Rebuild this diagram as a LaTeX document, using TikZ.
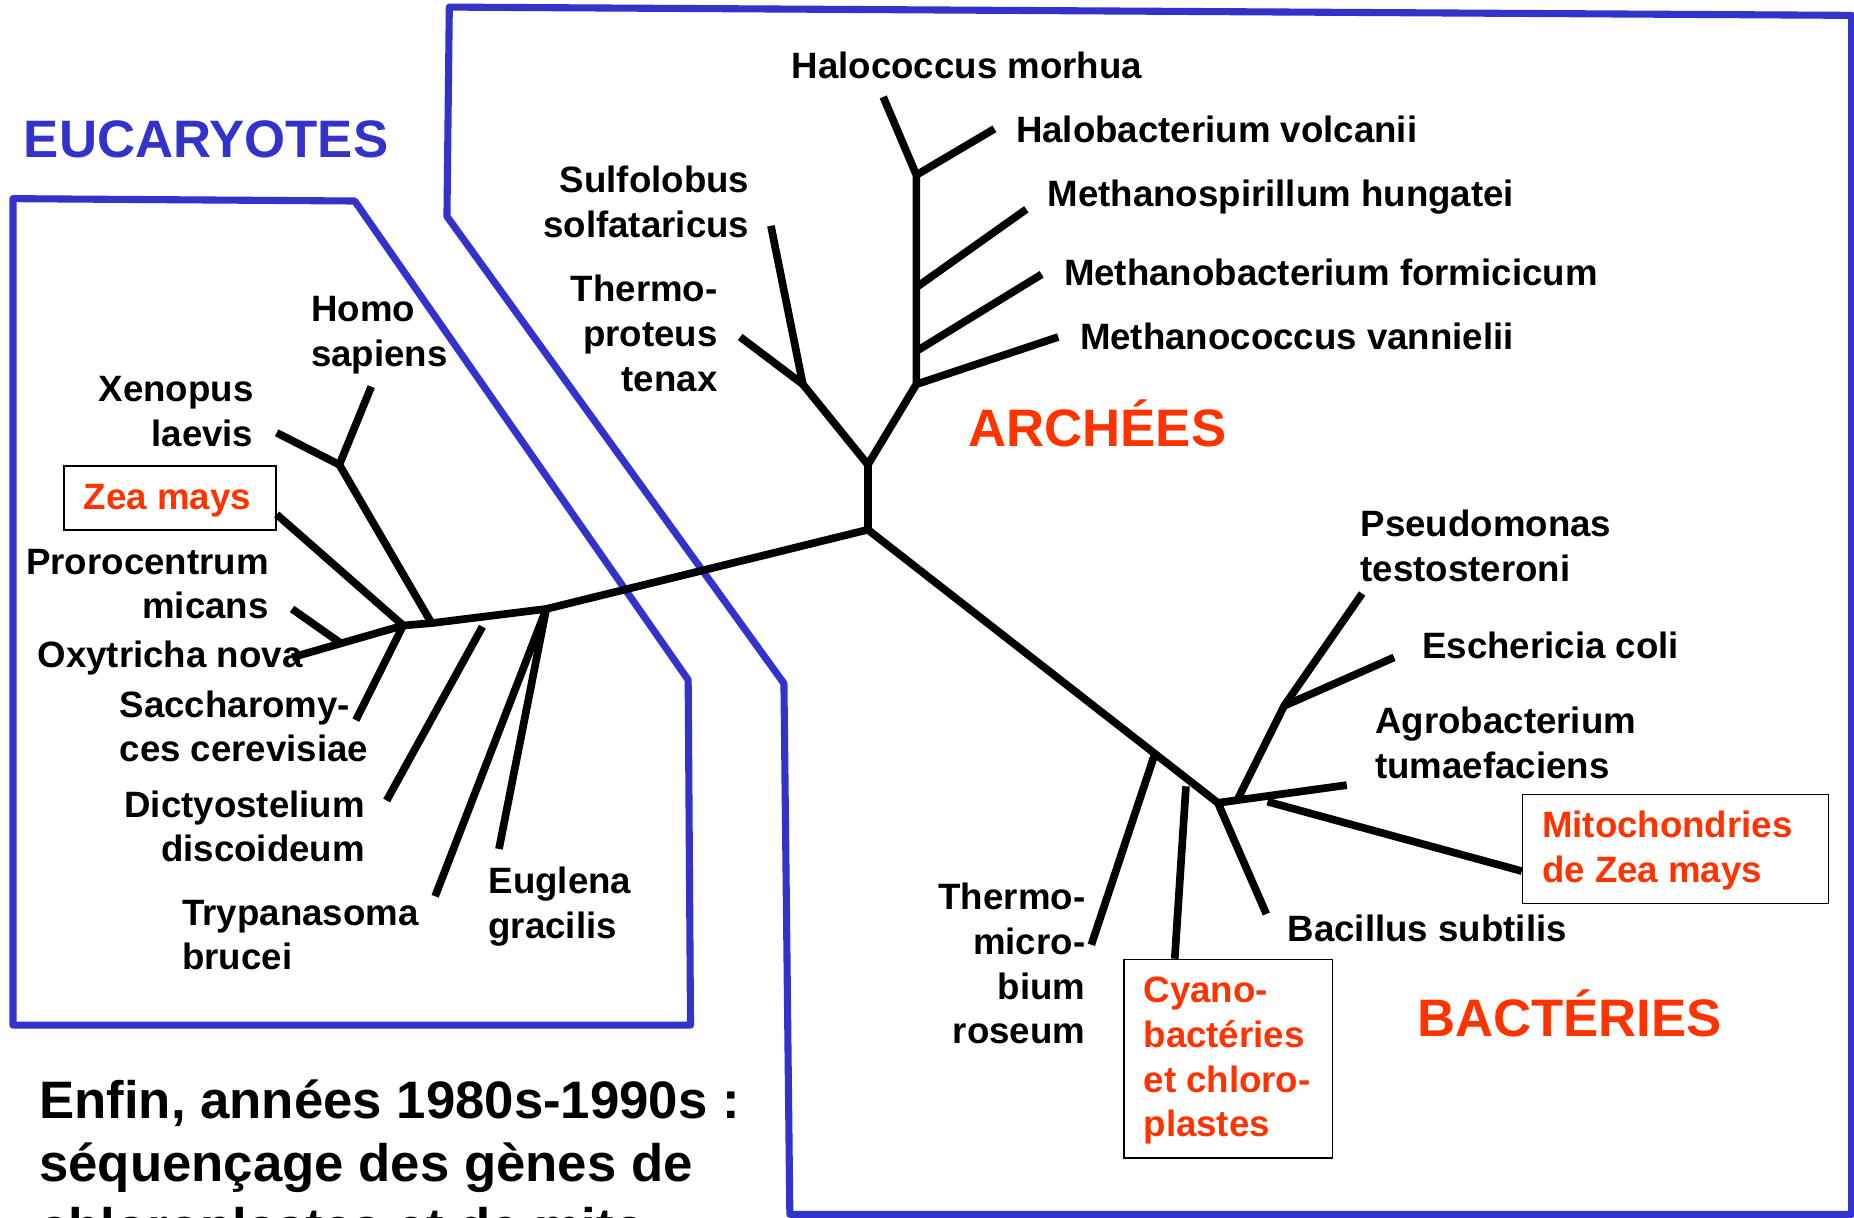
\documentclass[tikz,border=0pt]{standalone}
\usepackage{fontspec}
\setmainfont{Liberation Sans}
\usetikzlibrary{calc}
\definecolor{eublue}{RGB}{51,51,204}
\definecolor{orred}{RGB}{255,51,0}
\newcommand{\rlinesx}[1]{\begin{tabular}[t]{@{}r@{}}#1\end{tabular}}
\newcommand{\llinesx}[1]{\begin{tabular}[t]{@{}l@{}}#1\end{tabular}}
\begin{document}
\begin{tikzpicture}[x=1pt,y=-1pt,
  treeline/.style={line width=6.5pt, line join=round},
  domainline/.style={draw=eublue, line width=6pt, line join=round},
  lab/.style={font=\bfseries\fontsize{31}{37.8}\selectfont, inner sep=0pt, text=black},
  redlab/.style={lab, text=orred},
  bigtext/.style={font=\bfseries\fontsize{44.6}{53.6}\selectfont, inner sep=0pt},
  rbox/.style={draw=black, line width=1.3pt, inner sep=0pt, anchor=north west, rectangle}]
\useasboundingbox (0,0) rectangle (1568,1030);
\clip (0,0) rectangle (1568,1030);
\fill[white] (0,0) rectangle (1568,1030);

% domain outlines
\draw[domainline] (11,168) -- (300,170) -- (582,575) -- (584,867) -- (11,867) -- cycle;
\draw[domainline] (380,6) -- (1566,13) -- (1566,1027) -- (668,1027) -- (663,578) -- (378,183) -- cycle;

% boxes
\node[rbox, minimum width=179.3pt, minimum height=54.4pt] (zeabox) at (53.4,393.3) {};
\node[rbox, minimum width=258.7pt, minimum height=92.3pt] (mitbox) at (1287,671.2) {};
\node[rbox, minimum width=176.4pt, minimum height=168pt] (cyabox) at (950,810.8) {};

% tree coordinates
\coordinate (R) at (734,448);
\coordinate (A0) at (734,393);
\coordinate (A1) at (679,325);
\coordinate (A2) at (775,325);
\coordinate (A3) at (775,148);
\coordinate (M1) at (775,243);
\coordinate (M2) at (775,297);
\coordinate (sulf) at (652,191);
\coordinate (thp) at (626,285);
\coordinate (halc) at (747,82);
\coordinate (halb) at (841,109);
\coordinate (msp) at (868,177);
\coordinate (mbf) at (881,232);
\coordinate (mcv) at (895,285);

\coordinate (E1) at (462,515);
\coordinate (E2) at (365,527);
\coordinate (E3) at (341,529);
\coordinate (oxy) at (247,556);
\coordinate (pro1) at ($(E3)!0.56!(oxy)$);
\coordinate (pro) at (247,515);
\coordinate (HX) at (287,393);
\coordinate (homo) at (314,327);
\coordinate (xen) at (234,366);
\coordinate (sac) at (301,609);
\coordinate (dic1) at (408,530);
\coordinate (dic) at (327,677);
\coordinate (try) at (368,758);
\coordinate (eug) at (422,718);

\coordinate (B1) at (1030,679);
\coordinate (thm1) at ($(R)!0.82!(B1)$);
\coordinate (thm) at (923,799);
\coordinate (cya1) at (1003,665);
\coordinate (bac) at (1071,773);
\coordinate (agr) at (1139,664);
\coordinate (B2s) at ($(B1)!0.15!(agr)$);
\coordinate (B2) at (1086,597);
\coordinate (pse) at (1152,502);
\coordinate (esc) at (1179,556);
\coordinate (mit1) at (1072,678);

% archaea branches
\draw[treeline] (R) -- (A0);
\draw[treeline] (sulf) -- (A1) -- (A0) -- (A2) -- (A3) -- (halc);
\draw[treeline] (A1) -- (thp);
\draw[treeline] (A3) -- (halb);
\draw[treeline] (M1) -- (msp);
\draw[treeline] (M2) -- (mbf);
\draw[treeline] (A2) -- (mcv);

% eukaryote branches
\draw[treeline] (R) -- (E1) -- (E2) -- (E3) -- (oxy);
\draw[treeline] (pro1) -- (pro);
\draw[treeline] (E3) -- ($(zeabox.north east)!0.75!(zeabox.south east)$);
\draw[treeline] (E2) -- (HX) -- (homo);
\draw[treeline] (HX) -- (xen);
\draw[treeline] (E3) -- (sac);
\draw[treeline] (dic1) -- (dic);
\draw[treeline] (E1) -- (try);
\draw[treeline] (E1) -- (eug);

% bacteria branches
\draw[treeline] (R) -- (B1) -- (bac);
\draw[treeline] (B1) -- (agr);
\draw[treeline] (B2s) -- (B2) -- (pse);
\draw[treeline] (B2) -- (esc);
\draw[treeline] (thm1) -- (thm);
\draw[treeline] (cya1) -- ($(cyabox.north west)!0.245!(cyabox.north east)$);
\draw[treeline] (mit1) -- ($(mitbox.north west)!0.7!(mitbox.south west)$);

% titles
\node[bigtext, text=eublue, anchor=base west] (teuc) at (20,133) {EUCARYOTES};
\node[bigtext, text=orred, anchor=base west] (tarc) at (818.9,377.6) {ARCHÉES};
\node[bigtext, text=orred, anchor=base west] (tbac) at (1198.4,876.7) {BACTÉRIES};

% archaea labels
\node[lab, anchor=base west] (lhalc) at (669.4,66.5) {Halococcus morhua};
\node[lab, anchor=base west] (lhalb) at (859.1,120.8) {Halobacterium volcanii};
\node[lab, anchor=base west] (lmsp) at (885.8,174.6) {Methanospirillum hungatei};
\node[lab, anchor=base west] (lmbf) at (899.7,241.6) {Methanobacterium formicicum};
\node[lab, anchor=base west] (lmcv) at (913.2,296) {Methanococcus vannielii};
\node[lab, anchor=base east] (lsulf) at (633.8,163.1) {\rlinesx{Sulfolobus\\solfataricus}};
\node[lab, anchor=base east] (lthp) at (607,255.2) {\rlinesx{Thermo-\\proteus\\tenax}};

% eukaryote labels
\node[lab, anchor=base west] (lhomo) at (263,272) {\llinesx{Homo\\sapiens}};
\node[lab, anchor=base east] (lxen) at (214.5,339.7) {\rlinesx{Xenopus\\laevis}};
\node[redlab, anchor=base west] (lzea) at (70.8,431.3) {Zea mays};
\node[lab, anchor=base east] (lpro) at (227.4,485.7) {\rlinesx{Prorocentrum\\micans}};
\node[lab, anchor=base west] (loxy) at (31.6,564.4) {Oxytricha nova};
\node[lab, anchor=base west] (lsac) at (101,606.5) {\llinesx{Saccharomy-\\ces cerevisiae}};
\node[lab, anchor=base east] (ldic) at (308.7,691.2) {\rlinesx{Dictyostelium\\discoideum}};
\node[lab, anchor=base west] (ltry) at (154,782.3) {\llinesx{Trypanasoma\\brucei}};
\node[lab, anchor=base west] (leug) at (413,755.5) {\llinesx{Euglena\\gracilis}};

% bacteria labels
\node[lab, anchor=base west] (lpse) at (1150.6,453.8) {\llinesx{Pseudomonas\\testosteroni}};
\node[lab, anchor=base west] (lesc) at (1202.6,556.5) {Eschericia coli};
\node[lab, anchor=base west] (lagr) at (1163,620.4) {\llinesx{Agrobacterium\\tumaefaciens}};
\node[redlab, anchor=base west] (lmit) at (1304,708.6) {\llinesx{Mitochondries\\de Zea mays}};
\node[lab, anchor=base west] (lbac) at (1088.9,796.5) {Bacillus subtilis};
\node[lab, anchor=base east] (lthm) at (918,769.5) {\rlinesx{Thermo-\\micro-\\bium\\roseum}};
\node[redlab, anchor=base west] (lcya) at (967,848) {\llinesx{Cyano-\\bactéries\\et chloro-\\plastes}};

% bottom text (cut off at the lower edge, as in the reference)
\node[bigtext, text=black, anchor=base west] (ltext) at (33,946) {\llinesx{Enfin, années 1980s-1990s :\\séquençage des gènes de\\chloroplastes et de mito}};
\end{tikzpicture}
\end{document}
